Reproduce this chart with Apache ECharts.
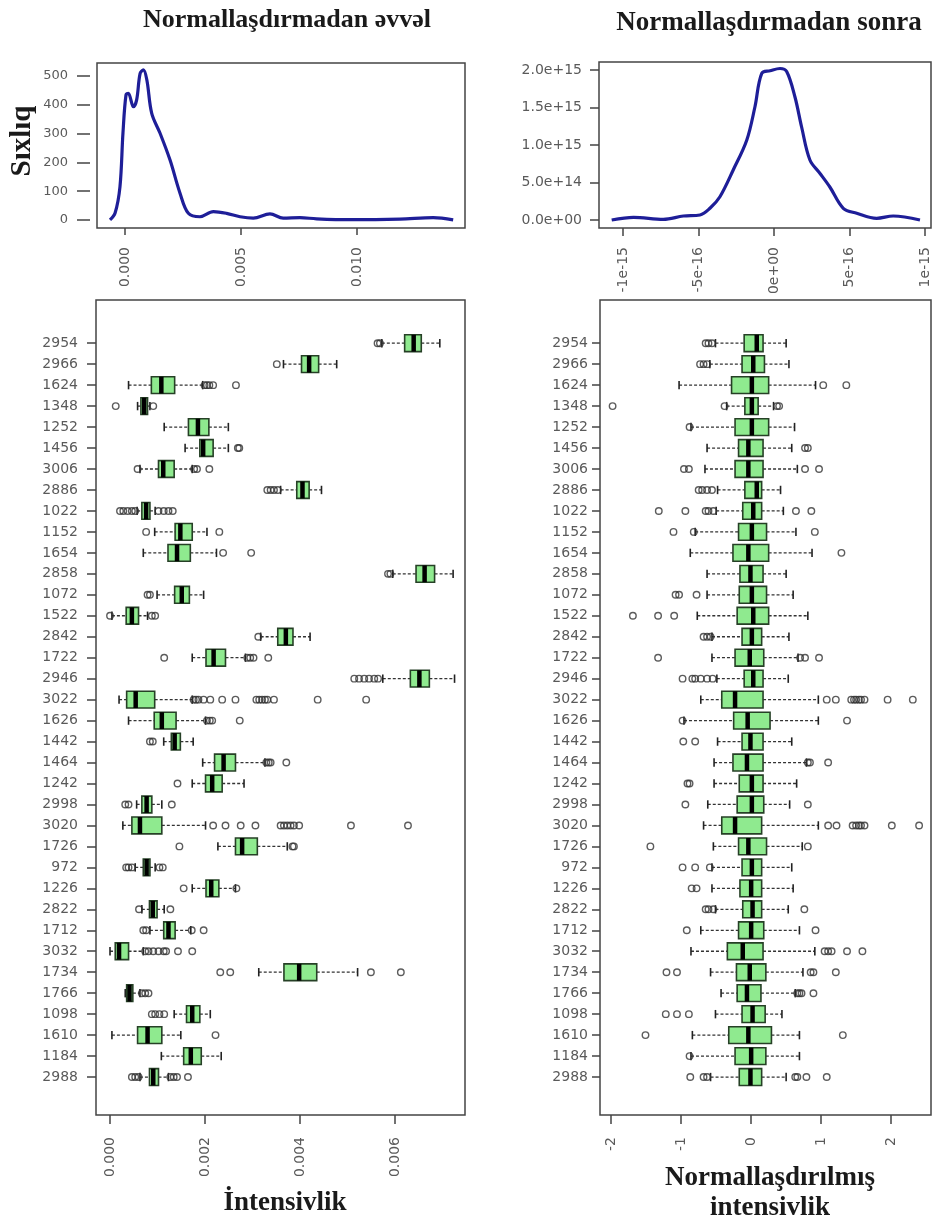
<!DOCTYPE html>
<html>
<head>
<meta charset="utf-8">
<title>Normallaşdırmadan əvvəl və sonra</title>
<script src="https://cdn.jsdelivr.net/npm/echarts@6/dist/echarts.min.js"></script>
<style>
  html, body { margin: 0; padding: 0; background: #fff; }
  #chart { width: 933px; height: 1227px; }
</style>
</head>
<body>
<div id="chart"></div>
<script>
// kateqoriyalar (yuxarıdan aşağı)
const categories = ['2954', '2966', '1624', '1348', '1252', '1456', '3006', '2886', '1022', '1152', '1654', '2858',
  '1072', '1522', '2842', '1722', '2946', '3022', '1626', '1442', '1464', '1242', '2998', '3020',
  '1726', '972', '1226', '2822', '1712', '3032', '1734', '1766', '1098', '1610', '1184', '2988'];

// sıxlıq - normallaşdırmadan əvvəl
const densBeforeX = [-0.00065, -0.00043, -0.00022, -0.00009, 0.00004, 0.00014, 0.00036, 0.0005, 0.00065, 0.00079,
  0.00094, 0.00115, 0.00151, 0.00194, 0.00237, 0.00273, 0.00323, 0.00381, 0.00438, 0.00496,
  0.00553, 0.00625, 0.00682, 0.00754, 0.00826, 0.0097, 0.01185, 0.01329, 0.01415];
const densBeforeY = [0, 24, 115, 302, 434, 440, 393, 417, 509, 521,
  486, 370, 301, 208, 93, 23, 11, 29, 23, 11,
  6, 21, 6, 8, 4, 1, 3, 8, 0];

// sıxlıq - normallaşdırmadan sonra
const densAfterX = [-1.075e-15, -0.93e-15, -0.733e-15, -0.6e-15, -0.49e-15, -0.424e-15, -0.358e-15, -0.27e-15,
  -0.18e-15, -0.126e-15, -0.081e-15, -0.026e-15, 0.04e-15, 0.084e-15, 0.139e-15, 0.183e-15,
  0.238e-15, 0.305e-15, 0.37e-15, 0.459e-15, 0.548e-15, 0.68e-15, 0.79e-15, 0.967e-15];
const densAfterY = [0, 3.6e13, 0.9e13, 5.3e13, 6.7e13, 1.56e14, 3.1e14, 6.67e14,
  1.067e15, 1.51e15, 1.956e15, 1.99e15, 2.02e15, 1.98e15, 1.64e15, 1.24e15,
  8.0e14, 6.2e14, 4.4e14, 1.56e14, 8.9e13, 2.2e13, 5.3e13, 0];

// [alt bığ, Q1, median, Q3, üst bığ]
const rawStats = [
  [0.00572, 0.00620, 0.00639, 0.00655, 0.00694],
  [0.00365, 0.00403, 0.00419, 0.00439, 0.00477],
  [0.00039, 0.00087, 0.00108, 0.00136, 0.00195],
  [0.00058, 0.00065, 0.00072, 0.00079, 0.00084],
  [0.00114, 0.00165, 0.00185, 0.00208, 0.00249],
  [0.00158, 0.00189, 0.00196, 0.00217, 0.00249],
  [0.00063, 0.00102, 0.00112, 0.00135, 0.00173],
  [0.00359, 0.00393, 0.00405, 0.00419, 0.00445],
  [0.00057, 0.00067, 0.00076, 0.00084, 0.00095],
  [0.00094, 0.00137, 0.00148, 0.00173, 0.00204],
  [0.00070, 0.00122, 0.00141, 0.00169, 0.00224],
  [0.00595, 0.00644, 0.00662, 0.00683, 0.00722],
  [0.00099, 0.00136, 0.00151, 0.00167, 0.00197],
  [0.00004, 0.00034, 0.00046, 0.00060, 0.00079],
  [0.00317, 0.00353, 0.00370, 0.00385, 0.00421],
  [0.00173, 0.00202, 0.00218, 0.00243, 0.00285],
  [0.00574, 0.00632, 0.00651, 0.00672, 0.00725],
  [0.00019, 0.00035, 0.00054, 0.00094, 0.00173],
  [0.00039, 0.00093, 0.00109, 0.00139, 0.00201],
  [0.00113, 0.00129, 0.00136, 0.00148, 0.00175],
  [0.00195, 0.00220, 0.00239, 0.00264, 0.00326],
  [0.00173, 0.00201, 0.00215, 0.00236, 0.00282],
  [0.00056, 0.00067, 0.00077, 0.00088, 0.00109],
  [0.00027, 0.00046, 0.00063, 0.00109, 0.00201],
  [0.00227, 0.00264, 0.00278, 0.00310, 0.00373],
  [0.00053, 0.00070, 0.00077, 0.00084, 0.00095],
  [0.00173, 0.00202, 0.00213, 0.00229, 0.00264],
  [0.00067, 0.00083, 0.00090, 0.00099, 0.00114],
  [0.00084, 0.00113, 0.00123, 0.00137, 0.00170],
  [0.00000, 0.00011, 0.00019, 0.00039, 0.00070],
  [0.00313, 0.00366, 0.00398, 0.00435, 0.00521],
  [0.00032, 0.00035, 0.00041, 0.00048, 0.00063],
  [0.00135, 0.00161, 0.00173, 0.00189, 0.00211],
  [0.00004, 0.00058, 0.00079, 0.00109, 0.00149],
  [0.00108, 0.00155, 0.00170, 0.00192, 0.00234],
  [0.00063, 0.00083, 0.00091, 0.00102, 0.00123]
];
const rawOutliers = [
  [0.00563, 0.00568],
  [0.00351],
  [0.00199, 0.00204, 0.00209, 0.00217, 0.00265],
  [0.00012, 0.00091],
  [],
  [0.00269, 0.00272],
  [0.00058, 0.00177, 0.00183, 0.00209],
  [0.00331, 0.00338, 0.00345, 0.00353],
  [0.00021, 0.00028, 0.00037, 0.00046, 0.00053, 0.00102, 0.00113, 0.00123, 0.00132],
  [0.00076, 0.00230],
  [0.00238, 0.00297],
  [0.00585, 0.00590],
  [0.00079, 0.00084],
  [0.0, 0.00088, 0.00095],
  [0.00312],
  [0.00114, 0.00289, 0.00295, 0.00302, 0.00333],
  [0.00514, 0.00524, 0.00535, 0.00545, 0.00556, 0.00564],
  [0.00176, 0.00181, 0.00186, 0.00197, 0.00211, 0.00236, 0.00264, 0.00308, 0.00314, 0.00320, 0.00326, 0.00331, 0.00345, 0.00437, 0.00539],
  [0.00204, 0.00210, 0.00215, 0.00273],
  [0.00084, 0.00090],
  [0.00329, 0.00334, 0.00338, 0.00371],
  [0.00142],
  [0.00032, 0.00039, 0.00130],
  [0.00217, 0.00243, 0.00275, 0.00306, 0.00359, 0.00366, 0.00373, 0.00380, 0.00387, 0.00398, 0.00507, 0.00627],
  [0.00146, 0.00384, 0.00387],
  [0.00034, 0.00039, 0.00046, 0.00104, 0.00111],
  [0.00155, 0.00266],
  [0.00061, 0.00127],
  [0.00070, 0.00076, 0.00172, 0.00197],
  [0.00074, 0.00081, 0.00091, 0.00102, 0.00113, 0.00118, 0.00143, 0.00173],
  [0.00232, 0.00253, 0.00549, 0.00612],
  [0.00067, 0.00074, 0.00081],
  [0.00088, 0.00095, 0.00104, 0.00114],
  [0.00222],
  [],
  [0.00046, 0.00053, 0.00060, 0.00127, 0.00134, 0.00141, 0.00164]
];

const normStats = [
  [-0.51, -0.10, 0.08, 0.17, 0.50],
  [-0.59, -0.13, 0.03, 0.19, 0.54],
  [-1.03, -0.28, 0.01, 0.25, 0.92],
  [-0.35, -0.09, 0.01, 0.10, 0.32],
  [-0.86, -0.23, 0.01, 0.25, 0.62],
  [-0.63, -0.18, -0.04, 0.17, 0.58],
  [-0.66, -0.23, -0.04, 0.17, 0.66],
  [-0.48, -0.09, 0.08, 0.15, 0.42],
  [-0.50, -0.12, 0.03, 0.15, 0.46],
  [-0.80, -0.18, 0.01, 0.22, 0.64],
  [-0.87, -0.26, -0.04, 0.25, 0.87],
  [-0.63, -0.16, -0.01, 0.17, 0.50],
  [-0.63, -0.17, 0.01, 0.22, 0.60],
  [-0.77, -0.20, 0.03, 0.25, 0.81],
  [-0.56, -0.13, 0.01, 0.15, 0.54],
  [-0.56, -0.23, -0.02, 0.18, 0.67],
  [-0.49, -0.10, 0.03, 0.17, 0.53],
  [-0.72, -0.42, -0.23, 0.17, 0.96],
  [-0.96, -0.25, -0.05, 0.27, 0.96],
  [-0.48, -0.13, -0.01, 0.17, 0.58],
  [-0.53, -0.26, -0.06, 0.17, 0.79],
  [-0.53, -0.17, 0.01, 0.17, 0.65],
  [-0.62, -0.20, 0.01, 0.18, 0.55],
  [-0.68, -0.42, -0.23, 0.15, 0.96],
  [-0.54, -0.18, -0.04, 0.22, 0.73],
  [-0.56, -0.13, 0.01, 0.15, 0.58],
  [-0.56, -0.16, 0.00, 0.15, 0.60],
  [-0.51, -0.12, 0.02, 0.15, 0.53],
  [-0.72, -0.18, 0.00, 0.18, 0.69],
  [-0.86, -0.34, -0.12, 0.17, 0.91],
  [-0.58, -0.21, -0.02, 0.21, 0.74],
  [-0.43, -0.20, -0.06, 0.14, 0.63],
  [-0.51, -0.13, 0.02, 0.20, 0.44],
  [-0.84, -0.32, -0.04, 0.29, 0.69],
  [-0.86, -0.23, 0.00, 0.21, 0.69],
  [-0.58, -0.17, -0.01, 0.15, 0.50]
];
const normOutliers = [
  [-0.65, -0.61, -0.56],
  [-0.73, -0.68, -0.63],
  [1.03, 1.36],
  [-1.98, -0.38, 0.37, 0.40],
  [-0.88],
  [0.77, 0.81],
  [-0.96, -0.89, 0.77, 0.97],
  [-0.75, -0.70, -0.63, -0.56],
  [-1.32, -0.94, -0.65, -0.61, -0.54, 0.64, 0.86],
  [-1.11, -0.82, 0.91],
  [1.29],
  [],
  [-1.08, -1.03, -0.78],
  [-1.69, -1.33, -1.10],
  [-0.68, -0.63, -0.58],
  [-1.33, 0.70, 0.77, 0.97],
  [-0.98, -0.84, -0.80, -0.72, -0.63, -0.55],
  [1.08, 1.21, 1.43, 1.47, 1.50, 1.54, 1.57, 1.62, 1.95, 2.31],
  [-0.98, 1.37],
  [-0.97, -0.80],
  [0.81, 0.84, 1.10],
  [-0.91, -0.88],
  [-0.94, 0.81],
  [1.10, 1.22, 1.45, 1.50, 1.54, 1.57, 1.62, 2.01, 2.40],
  [-1.44, 0.81],
  [-0.98, -0.80, -0.59],
  [-0.85, -0.78],
  [-0.65, -0.61, -0.54, 0.76],
  [-0.92, 0.92],
  [1.05, 1.10, 1.15, 1.37, 1.59],
  [-1.21, -1.06, 0.85, 0.89, 1.21],
  [0.66, 0.69, 0.72, 0.89],
  [-1.22, -1.06, -0.89],
  [-1.51, 1.31],
  [-0.88],
  [-0.87, -0.68, -0.63, 0.63, 0.66, 0.79, 1.08]
];

// ox işarələri
const beforeXTicks = [0, 0.005, 0.01];
const beforeXLabels = ['0.000', '0.005', '0.010'];
const beforeYTicks = [0, 100, 200, 300, 400, 500];
const beforeYLabels = ['0', '100', '200', '300', '400', '500'];
const afterXTicks = [-1e-15, -5e-16, 0, 5e-16, 1e-15];
const afterXLabels = ['-1e-15', '-5e-16', '0e+00', '5e-16', '1e-15'];
const afterYTicks = [0, 5e14, 1e15, 1.5e15, 2e15];
const afterYLabels = ['0.0e+00', '5.0e+14', '1.0e+15', '1.5e+15', '2.0e+15'];
const rawXTicks = [0, 0.002, 0.004, 0.006];
const rawXLabels = ['0.000', '0.002', '0.004', '0.006'];
const normXTicks = [-2, -1, 0, 1, 2];
const normXLabels = ['-2', '-1', '0', '1', '2'];

const E15 = 1e15; // kiçik ədədlərlə işləmək üçün miqyas
const catPos = categories.map((c, i) => i + 1);

function tickLabel(ticks, labels) {
  return function (v) {
    for (let i = 0; i < ticks.length; i++) {
      if (Math.abs(ticks[i] - v) <= 1e-9 * Math.max(1, Math.abs(ticks[i]))) return labels[i];
    }
    return '';
  };
}

function axis(gridIndex, min, max, ticks, labels, o) {
  return {
    type: 'value', gridIndex: gridIndex, min: min, max: max,
    inverse: !!o.inverse,
    offset: o.offset || 0,
    axisLine: {show: false, onZero: false},
    splitLine: {show: false},
    axisTick: {show: true, inside: false, length: o.tick, customValues: ticks,
      lineStyle: {color: '#444', width: 1.5}},
    axisLabel: {customValues: ticks, formatter: tickLabel(ticks, labels),
      rotate: o.rotate || 0, margin: o.margin, color: '#5a5a5a', fontSize: o.font || 14, fontFamily: 'DejaVu Sans'}
  };
}

function boxRender(params, api) {
  const pos = api.value(0);
  const lo = api.coord([api.value(1), pos]);
  const q1 = api.coord([api.value(2), pos]);
  const md = api.coord([api.value(3), pos]);
  const q3 = api.coord([api.value(4), pos]);
  const hi = api.coord([api.value(5), pos]);
  const h = Math.abs(api.size([0, 0.8])[1]);
  const y = lo[1];
  const cap = h / 4;
  const dash = {stroke: '#333', lineWidth: 1.3, lineDash: [3, 2]};
  const solid = {stroke: '#222', lineWidth: 1.6};
  return {
    type: 'group',
    children: [
      {type: 'line', shape: {x1: lo[0], y1: y, x2: q1[0], y2: y}, style: dash},
      {type: 'line', shape: {x1: q3[0], y1: y, x2: hi[0], y2: y}, style: dash},
      {type: 'line', shape: {x1: lo[0], y1: y - cap, x2: lo[0], y2: y + cap}, style: solid},
      {type: 'line', shape: {x1: hi[0], y1: y - cap, x2: hi[0], y2: y + cap}, style: solid},
      {type: 'rect', shape: {x: q1[0], y: y - h / 2, width: q3[0] - q1[0], height: h},
        style: {fill: '#8fea8f', stroke: '#264026', lineWidth: 1.6}},
      {type: 'line', shape: {x1: md[0], y1: y - h / 2, x2: md[0], y2: y + h / 2},
        style: {stroke: '#000', lineWidth: 4.5}}
    ]
  };
}

function outlierPoints(list) {
  const pts = [];
  list.forEach((arr, i) => arr.forEach(v => pts.push([v, catPos[i]])));
  return pts;
}

const frame = {show: true, borderColor: '#444', borderWidth: 1.5, backgroundColor: '#fff'};
const serif = '"Liberation Serif", "Times New Roman", serif';

const chart = echarts.init(document.getElementById('chart'), null, {renderer: 'canvas'});

chart.setOption({
  animation: false,
  backgroundColor: '#fff',
  grid: [
    Object.assign({left: 97, top: 63, width: 368, height: 165}, frame),
    Object.assign({left: 599, top: 62, width: 332, height: 166}, frame),
    Object.assign({left: 96, top: 300, width: 369, height: 815}, frame),
    Object.assign({left: 600, top: 300, width: 331, height: 815}, frame)
  ],
  xAxis: [
    axis(0, -0.00121, 0.01466, beforeXTicks, beforeXLabels, {tick: 7, margin: 19, rotate: 90}),
    axis(1, -1.159, 1.04, afterXTicks.map(v => v * E15), afterXLabels, {tick: 8, margin: 19, rotate: 90}),
    axis(2, -0.000295, 0.00747, rawXTicks, rawXLabels, {tick: 9, margin: 22, rotate: 90}),
    axis(3, -2.16, 2.57, normXTicks, normXLabels, {tick: 9, margin: 22, rotate: 90})
  ],
  yAxis: [
    axis(0, -28, 545, beforeYTicks, beforeYLabels, {tick: 13, margin: 22, offset: 7, font: 13}),
    axis(1, -1.07e14, 2.107e15, afterYTicks, afterYLabels, {tick: 9, margin: 17}),
    axis(2, -1.06, 37.81, catPos, categories, {tick: 9, margin: 18, inverse: true}),
    axis(3, -1.06, 37.81, catPos, categories, {tick: 8, margin: 12, inverse: true})
  ],
  series: [
    {
      type: 'line', xAxisIndex: 0, yAxisIndex: 0,
      data: densBeforeX.map((x, i) => [x, densBeforeY[i]]),
      showSymbol: false, smooth: 0.35,
      lineStyle: {color: '#1e1e98', width: 3.2}
    },
    {
      type: 'line', xAxisIndex: 1, yAxisIndex: 1,
      data: densAfterX.map((x, i) => [x * E15, densAfterY[i]]),
      showSymbol: false, smooth: 0.35,
      lineStyle: {color: '#1e1e98', width: 3.2}
    },
    {
      type: 'custom', xAxisIndex: 2, yAxisIndex: 2, clip: true,
      renderItem: boxRender,
      encode: {x: [1, 2, 3, 4, 5], y: 0},
      data: rawStats.map((s, i) => [catPos[i]].concat(s))
    },
    {
      type: 'scatter', xAxisIndex: 2, yAxisIndex: 2,
      symbol: 'circle', symbolSize: 6.5,
      itemStyle: {color: 'rgba(0,0,0,0)', borderColor: '#333', borderWidth: 1.4},
      data: outlierPoints(rawOutliers)
    },
    {
      type: 'custom', xAxisIndex: 3, yAxisIndex: 3, clip: true,
      renderItem: boxRender,
      encode: {x: [1, 2, 3, 4, 5], y: 0},
      data: normStats.map((s, i) => [catPos[i]].concat(s))
    },
    {
      type: 'scatter', xAxisIndex: 3, yAxisIndex: 3,
      symbol: 'circle', symbolSize: 6.5,
      itemStyle: {color: 'rgba(0,0,0,0)', borderColor: '#333', borderWidth: 1.4},
      data: outlierPoints(normOutliers)
    }
  ],
  graphic: [
    {type: 'text', x: 287, y: 20, style: {text: 'Normallaşdırmadan əvvəl', font: 'bold 26px ' + serif, fill: '#1a1a1a', align: 'center', verticalAlign: 'middle'}},
    {type: 'text', x: 769, y: 23, style: {text: 'Normallaşdırmadan sonra', font: 'bold 27px ' + serif, fill: '#1a1a1a', align: 'center', verticalAlign: 'middle'}},
    {type: 'text', x: 23, y: 141, rotation: Math.PI / 2, style: {text: 'Sıxlıq', font: 'bold 29px ' + serif, fill: '#1a1a1a', align: 'center', verticalAlign: 'middle'}},
    {type: 'text', x: 285, y: 1203, style: {text: 'İntensivlik', font: 'bold 27px ' + serif, fill: '#1a1a1a', align: 'center', verticalAlign: 'middle'}},
    {type: 'text', x: 770, y: 1178, style: {text: 'Normallaşdırılmış', font: 'bold 27px ' + serif, fill: '#1a1a1a', align: 'center', verticalAlign: 'middle'}},
    {type: 'text', x: 770, y: 1208, style: {text: 'intensivlik', font: 'bold 27px ' + serif, fill: '#1a1a1a', align: 'center', verticalAlign: 'middle'}}
  ]
});
</script>
</body>
</html>
